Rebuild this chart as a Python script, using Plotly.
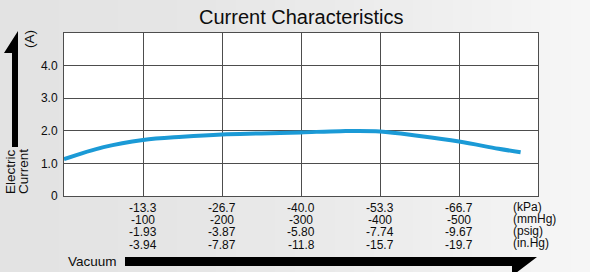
import plotly.graph_objects as go

# ---- data ----
vacuum_mmhg = [0, 50, 100, 150, 200, 250, 300, 350, 400, 450, 500, 550, 578]
current_a = [1.13, 1.50, 1.72, 1.82, 1.89, 1.92, 1.95, 1.99, 1.98, 1.84, 1.67, 1.45, 1.34]

tick_mmhg = [100, 200, 300, 400, 500]
kpa_labels = ["-13.3", "-26.7", "-40.0", "-53.3", "-66.7"]
mmhg_labels = ["-100", "-200", "-300", "-400", "-500"]
psig_labels = ["-1.93", "-3.87", "-5.80", "-7.74", "-9.67"]
inhg_labels = ["-3.94", "-7.87", "-11.8", "-15.7", "-19.7"]
unit_labels = ["(kPa)", "(mmHg)", "(psig)", "(in.Hg)"]

y_tickvals = [0, 1, 2, 3, 4]
y_ticktext = ["0", "1.0", "2.0", "3.0", "4.0"]

W, H = 590, 272
L, R, T, B = 64, 52, 33, 76
PW = W - L - R
PH = H - T - B


def px(x):
    return (x - L) / PW


def py(y):
    return (H - B - y) / PH


FONT = "Liberation Sans, Arial, Helvetica, sans-serif"
TXT = "#0d0d0d"
GRID = "#4d4d4d"

fig = go.Figure()
fig.add_trace(go.Scatter(
    x=vacuum_mmhg, y=current_a, mode="lines",
    line=dict(color="#1b9ad6", width=4, shape="spline", smoothing=1.0),
    hoverinfo="skip", showlegend=False,
))

shapes = []
# background gradient strips
n = 30
for i in range(n):
    x0 = i * W / n
    x1 = (i + 1) * W / n + 0.5
    t = i / (n - 1)
    v = int(round(227 + 19 * (t ** 1.6)))
    shapes.append(dict(type="rect", xref="paper", yref="paper",
                       x0=px(x0), x1=px(x1), y0=py(H), y1=py(0),
                       line=dict(width=0), fillcolor=f"rgb({v},{v},{v})",
                       layer="below"))
# white plot area
shapes.append(dict(type="rect", xref="paper", yref="paper", x0=0, x1=1, y0=0, y1=1,
                   line=dict(width=0), fillcolor="white", layer="below"))


def pth(pts):
    return "M " + " L ".join(f"{px(a):.5f},{py(b):.5f}" for a, b in pts) + " Z"


# vertical arrow
shapes.append(dict(type="path", xref="paper", yref="paper",
                   path=pth([(12, 147), (18, 147), (18, 31), (4, 53), (12, 53)]),
                   fillcolor="black", line=dict(width=0)))
# horizontal arrow
shapes.append(dict(type="path", xref="paper", yref="paper",
                   path=pth([(125, 257), (537, 257), (512, 276), (512, 266), (125, 266)]),
                   fillcolor="black", line=dict(width=0)))

annotations = []
rows = [kpa_labels, mmhg_labels, psig_labels, inhg_labels]
row_y = [208, 220, 232, 245]
for labels, yy in zip(rows, row_y):
    for xv, lab in zip(tick_mmhg, labels):
        annotations.append(dict(x=xv, xref="x", y=py(yy), yref="paper", text=lab,
                                showarrow=False, xanchor="center", yanchor="middle",
                                font=dict(family=FONT, size=12, color=TXT)))
unit_y = [207, 219, 231, 243]
for lab, yy in zip(unit_labels, unit_y):
    annotations.append(dict(x=px(511), xref="paper", y=py(yy), yref="paper", text=lab,
                            showarrow=False, xanchor="left", yanchor="middle",
                            font=dict(family=FONT, size=12, color=TXT)))

annotations.append(dict(x=px(92), y=py(261), xref="paper", yref="paper", text="Vacuum",
                        showarrow=False, xanchor="center", yanchor="middle",
                        font=dict(family=FONT, size=13.5, color=TXT)))
annotations.append(dict(x=px(10), y=py(172), xref="paper", yref="paper", text="Electric",
                        showarrow=False, textangle=-90, xanchor="center", yanchor="middle",
                        font=dict(family=FONT, size=13.5, color=TXT)))
annotations.append(dict(x=px(23), y=py(172), xref="paper", yref="paper", text="Current",
                        showarrow=False, textangle=-90, xanchor="center", yanchor="middle",
                        font=dict(family=FONT, size=13.5, color=TXT)))
annotations.append(dict(x=px(29), y=py(39), xref="paper", yref="paper", text="(A)",
                        showarrow=False, textangle=-90, xanchor="center", yanchor="middle",
                        font=dict(family=FONT, size=13.5, color=TXT)))
annotations.append(dict(x=0.5, y=py(17), xref="paper", yref="paper",
                        text="Current Characteristics",
                        showarrow=False, xanchor="center", yanchor="middle",
                        font=dict(family=FONT, size=20, color=TXT)))

fig.update_layout(
    width=W, height=H,
    margin=dict(l=L, r=R, t=T, b=B, pad=0),
    paper_bgcolor="#e9e9e9", plot_bgcolor="white",
    shapes=shapes, annotations=annotations,
    showlegend=False,
    font=dict(family=FONT, color=TXT),
)
fig.update_xaxes(range=[0, 600], tickvals=tick_mmhg, showticklabels=False,
                 showgrid=True, gridcolor=GRID, gridwidth=1, zeroline=False,
                 showline=True, linecolor=GRID, linewidth=1, mirror=True, ticks="",
                 fixedrange=True)
fig.update_yaxes(range=[0, 5], tickvals=y_tickvals, ticktext=y_ticktext,
                 showgrid=True, gridcolor=GRID, gridwidth=1, zeroline=False,
                 showline=True, linecolor=GRID, linewidth=1, mirror=True,
                 ticks="outside", ticklen=3, tickcolor="rgba(0,0,0,0)",
                 tickfont=dict(family=FONT, size=12, color=TXT), fixedrange=True)

fig.write_html("out.html", config={"displayModeBar": False},
               post_script="document.body.style.margin='0';document.body.style.overflow='hidden';")
